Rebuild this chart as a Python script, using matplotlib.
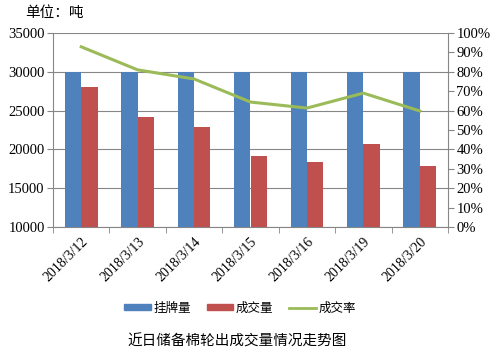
import numpy as np
import matplotlib
matplotlib.use("Agg")
import matplotlib.pyplot as plt
from matplotlib.ticker import FuncFormatter, FixedLocator
from matplotlib.patches import Patch
from matplotlib.lines import Line2D

plt.rcParams['font.family'] = ['Liberation Serif', 'Noto Sans CJK SC', 'DejaVu Sans']

dates = ['2018/3/12', '2018/3/13', '2018/3/14', '2018/3/15', '2018/3/16', '2018/3/19', '2018/3/20']
listed = [30000, 30000, 30000, 30000, 30000, 30000, 30000]
traded = [28000, 24200, 22900, 19200, 18400, 20700, 17900]
rate = [92.9, 81.0, 76.3, 64.4, 61.3, 69.0, 59.8]

blue = '#4F81BD'
red = '#C0504D'
green = '#9BBB59'
grey = '#868686'
cjk = ['Noto Sans CJK SC', 'DejaVu Sans']

fig = plt.figure(figsize=(5, 3.59), dpi=100)
ax = fig.add_axes([0.106, 0.368, 0.79, 0.54])
x = np.arange(len(dates))
w = 0.29

# bars start at the 10000 floor of the left axis
ax.bar(x - w / 2, [v - 10000 for v in listed], w, bottom=10000, color=blue, zorder=3)
ax.bar(x + w / 2, [v - 10000 for v in traded], w, bottom=10000, color=red, zorder=3)
ax.set_ylim(10000, 35000)
ax.set_xlim(-0.5, len(dates) - 0.5)
ax.set_yticks(range(10000, 35001, 5000))
ax.yaxis.grid(True, color=grey, linewidth=0.8, zorder=0)
ax.set_axisbelow(True)

ax.set_xticks(x)
ax.set_xticklabels(dates, rotation=45, ha='right', rotation_mode='anchor', fontsize=10)
ax.xaxis.set_minor_locator(FixedLocator(np.arange(-0.5, len(dates), 1)))
ax.tick_params(axis='x', which='major', length=0, pad=6)
ax.tick_params(axis='x', which='minor', length=4, color=grey, direction='out')
ax.tick_params(axis='y', length=4, color=grey, labelsize=10.5, pad=2)

for s in ['top', 'right']:
    ax.spines[s].set_visible(False)
for s in ['left', 'bottom']:
    ax.spines[s].set_color(grey)

ax2 = ax.twinx()
ax2.plot(x, rate, color=green, linewidth=2.2, zorder=4)
ax2.set_ylim(0, 100)
ax2.set_yticks(range(0, 101, 10))
ax2.yaxis.set_major_formatter(FuncFormatter(lambda v, p: f'{int(v)}%'))
ax2.tick_params(axis='y', length=4, color=grey, labelsize=10.5, pad=2)
for s in ['top', 'left', 'bottom']:
    ax2.spines[s].set_visible(False)
ax2.spines['right'].set_color(grey)

fig.text(0.05, 0.965, '单位：吨', fontsize=10.5, family=cjk, va='center')

handles = [Patch(color=blue), Patch(color=red), Line2D([0], [0], color=green, linewidth=2)]
fig.legend(handles, ['挂牌量', '成交量', '成交率'], loc='center', bbox_to_anchor=(0.48, 0.142),
           ncol=3, frameon=False, prop={'family': cjk, 'size': 9},
           handlelength=2.1, handleheight=0.4, columnspacing=1.3, handletextpad=0.2)

fig.text(0.475, 0.05, '近日储备棉轮出成交量情况走势图', fontsize=10.5, family=cjk, ha='center', va='center')

fig.savefig('out.png', dpi=100)
